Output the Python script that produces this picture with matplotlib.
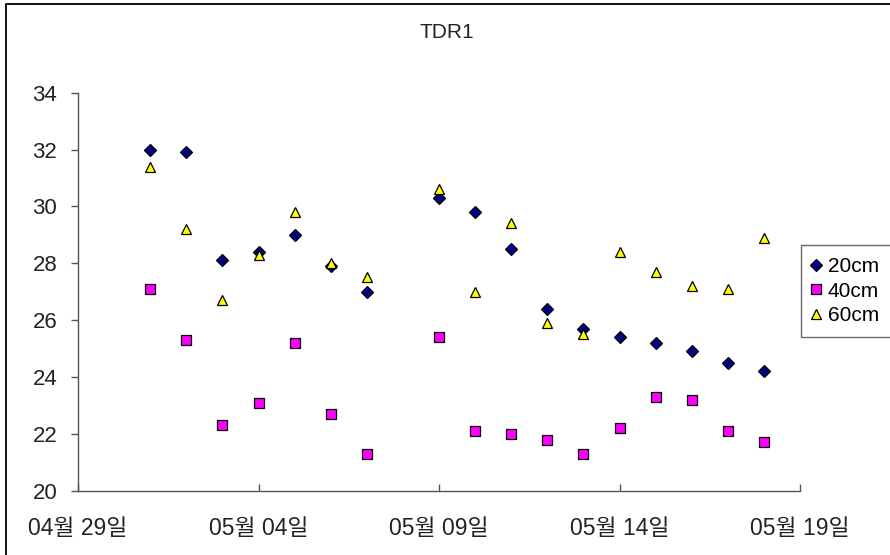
"""
TDR1 - soil temperature at three depths (20, 40, 60 cm), scatter by date.
"""

import datetime as dt

import matplotlib
matplotlib.use("Agg")
import matplotlib.pyplot as plt
import matplotlib.dates as mdates
from matplotlib.patches import Rectangle

plt.rcParams["font.family"] = ["Liberation Sans", "Noto Sans CJK KR", "DejaVu Sans"]

# days of May (05-08 is missing in the record)
DAYS = [1, 2, 3, 4, 5, 6, 7, 9, 10, 11, 12, 13, 14, 15, 16, 17, 18]

T20 = [32.0, 31.9, 28.1, 28.4, 29.0, 27.9, 27.0, 30.3, 29.8, 28.5,
       26.4, 25.7, 25.4, 25.2, 24.9, 24.5, 24.2]
T40 = [27.1, 25.3, 22.3, 23.1, 25.2, 22.7, 21.3, 25.4, 22.1, 22.0,
       21.8, 21.3, 22.2, 23.3, 23.2, 22.1, 21.7]
T60 = [31.4, 29.2, 26.7, 28.3, 29.8, 28.0, 27.5, 30.6, 27.0, 29.4,
       25.9, 25.5, 28.4, 27.7, 27.2, 27.1, 28.9]

SERIES = [
    ("20cm", T20, "D", "#000080", 6.0),
    ("40cm", T40, "s", "#FF00FF", 7.5),
    ("60cm", T60, "^", "#FFFF00", 7.5),
]

YEAR = 2008


def main():
    fechas = [dt.date(YEAR, 5, d) for d in DAYS]

    fig = plt.figure(figsize=(8.9, 5.55), dpi=100)
    ax = fig.add_axes([78 / 890, 1 - 490.7 / 555,
                       (800 - 78) / 890, (490.7 - 92.7) / 555])

    # marco exterior del grafico
    fig.patches.append(Rectangle((6 / 890, -0.1), 1.2, 1.1 - 4.5 / 555,
                                 transform=fig.transFigure, fill=False,
                                 edgecolor="black", linewidth=1.3))

    for nombre, vals, mk, col, ms in SERIES:
        ax.plot(fechas, vals, ls="none", marker=mk, markersize=ms,
                markerfacecolor=col, markeredgecolor="black",
                markeredgewidth=0.9, label=nombre)

    ax.set_xlim(dt.date(YEAR, 4, 29), dt.date(YEAR, 5, 19))
    ax.set_ylim(20, 34)
    ax.set_xticks([dt.date(YEAR, 4, 29) + dt.timedelta(days=5 * i)
                   for i in range(5)])
    ax.xaxis.set_major_formatter(mdates.DateFormatter("%m월 %d일"))
    ax.set_yticks(range(20, 35, 2))

    for lado in ("top", "right"):
        ax.spines[lado].set_visible(False)
    for lado in ("left", "bottom"):
        ax.spines[lado].set_linewidth(1.0)
        ax.spines[lado].set_color("#555555")

    ax.tick_params(axis="x", direction="in", length=5, width=1.0,
                   pad=19, labelsize=16.5, color="#555555", labelcolor="#222222")
    ax.tick_params(axis="y", direction="out", length=5, width=1.0,
                   pad=10, labelsize=16, color="#555555", labelcolor="#222222")

    fig.text(447 / 890, 1 - 33 / 555, "TDR1", ha="center", va="center",
             fontsize=15, color="#222222")

    leg = ax.legend(loc="upper left", bbox_to_anchor=(800.5 / 890, 1 - 245 / 555),
                    bbox_transform=fig.transFigure, fontsize=15,
                    frameon=True, fancybox=False, borderpad=0.6,
                    handlelength=0.3, handletextpad=0.4, labelspacing=0.25,
                    borderaxespad=0)
    leg.get_frame().set_edgecolor("#444444")
    leg.get_frame().set_linewidth(1.0)

    fig.savefig("out.png", dpi=100)


if __name__ == "__main__":
    main()
